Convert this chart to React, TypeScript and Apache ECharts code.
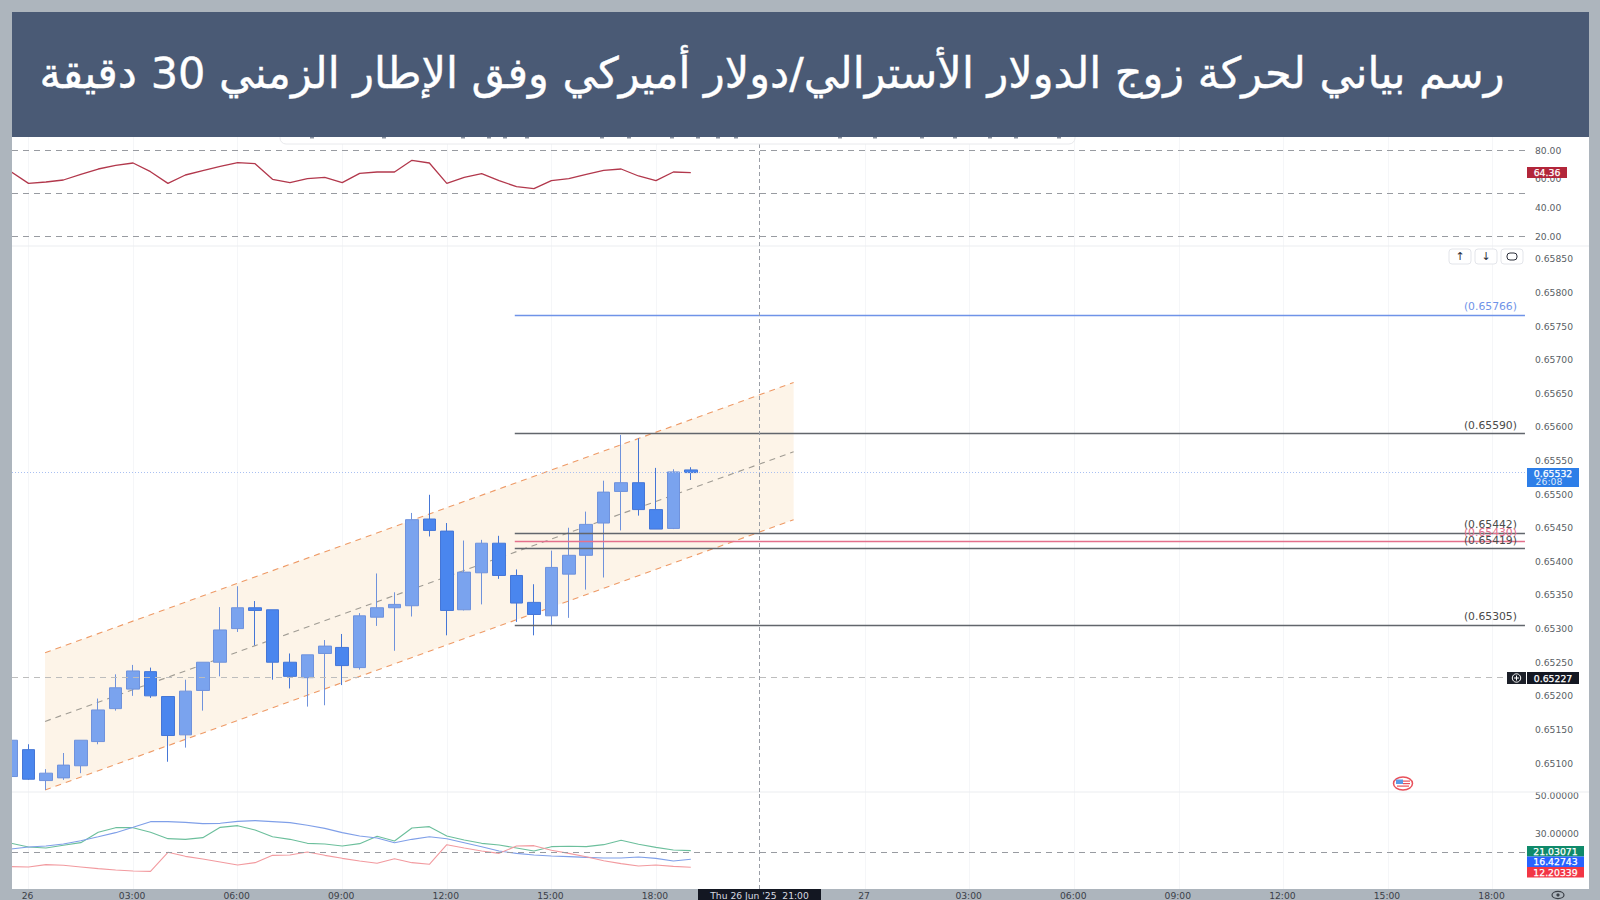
import React, { useEffect, useRef } from "react";
import * as echarts from "echarts";

const titleText = "رسم بياني لحركة زوج الدولار الأسترالي/دولار أميركي وفق الإطار الزمني 30 دقيقة";

const barIndex = Array.from({ length: 40 }, (_, k) => k - 1);
const opens = [65080, 65120, 65074, 65078, 65096, 65132, 65181, 65210, 65236, 65199, 65142, 65208, 65250, 65300, 65331, 65328, 65250, 65227, 65263, 65272, 65242, 65317, 65331, 65334, 65463, 65445, 65328, 65383, 65427, 65379, 65339, 65319, 65381, 65409, 65457, 65504, 65517, 65477, 65449, 65536];
const closes = [65134, 65076, 65085, 65097, 65134, 65179, 65212, 65237, 65200, 65141, 65207, 65250, 65298, 65331, 65327, 65250, 65229, 65261, 65274, 65245, 65319, 65331, 65336, 65462, 65446, 65327, 65384, 65427, 65379, 65338, 65321, 65391, 65409, 65455, 65503, 65517, 65477, 65448, 65533, 65532];
const lows = [65080, 65075, 65060, 65075, 65085, 65128, 65178, 65200, 65197, 65102, 65123, 65178, 65229, 65295, 65275, 65224, 65211, 65184, 65186, 65216, 65239, 65304, 65267, 65318, 65437, 65290, 65327, 65336, 65374, 65310, 65290, 65304, 65316, 65358, 65376, 65446, 65468, 65448, 65448, 65521];
const highs = [65134, 65128, 65091, 65115, 65134, 65196, 65232, 65246, 65242, 65199, 65224, 65250, 65332, 65363, 65341, 65328, 65263, 65261, 65283, 65292, 65323, 65382, 65354, 65472, 65499, 65457, 65431, 65432, 65438, 65388, 65366, 65416, 65450, 65474, 65520, 65588, 65583, 65539, 65537, 65540];

const rsiValues = [65.0, 56.93, 57.85, 59.24, 63.16, 66.85, 69.39, 71.0, 65.0, 56.93, 62.7, 65.7, 68.7, 71.23, 70.54, 59.7, 57.39, 60.16, 61.08, 57.39, 63.85, 64.77, 64.77, 72.85, 71.0, 56.93, 61.08, 63.62, 58.78, 54.62, 53.24, 58.78, 60.16, 63.16, 65.93, 66.85, 62.01, 58.78, 64.77, 64.36];
const adxGreen = [24.89, 22.94, 22.41, 23.83, 25.24, 30.72, 33.2, 33.2, 30.72, 27.36, 27.01, 27.89, 33.37, 34.26, 31.96, 28.42, 27.01, 24.89, 24.53, 23.47, 24.71, 28.6, 26.12, 33.02, 33.73, 28.78, 26.65, 24.89, 24.0, 22.41, 20.82, 23.12, 23.3, 23.12, 24.18, 26.48, 24.36, 22.76, 21.35, 21.03];
const adxBlue = [21.88, 22.94, 23.47, 24.53, 26.3, 28.42, 30.55, 33.37, 36.38, 36.38, 36.03, 35.32, 35.5, 36.56, 36.91, 36.38, 35.85, 34.44, 32.84, 30.55, 28.78, 27.72, 25.24, 27.01, 28.42, 27.36, 25.24, 23.12, 20.82, 19.58, 18.7, 18.17, 17.81, 17.46, 17.11, 17.11, 17.64, 16.93, 15.51, 16.43];
const adxRed = [12.51, 12.33, 13.57, 13.22, 12.33, 11.45, 10.74, 10.21, 10.03, 20.11, 17.99, 16.58, 14.98, 13.39, 14.63, 18.52, 18.7, 20.29, 18.52, 16.93, 15.51, 14.28, 16.75, 14.63, 13.75, 24.18, 22.41, 20.82, 19.58, 23.47, 23.65, 21.18, 19.58, 17.81, 15.69, 14.1, 12.86, 13.39, 12.68, 12.2];

const channelX = [0.95, 43.9];
const channelTop = [65264, 65666];
const channelMid = [65162, 65563];
const channelBottom = [65060, 65462];

const levelStart = 27.9;
const levelEnd = 85.86;
const levelPrices = [65766, 65590, 65442, 65430, 65419, 65305];
const levelLabels = ["(0.65766)", "(0.65590)", "(0.65442)", "(0.65430)", "(0.65419)", "(0.65305)"];
const levelColors = ["#6f93e8", "#62666c", "#62666c", "#e4708c", "#62666c", "#62666c"];
const levelTextColors = ["#6f93e8", "#4a4a4a", "#4a4a4a", "#e4708c", "#4a4a4a", "#4a4a4a"];

const lastPrice = 65532;
const dashedPrice = 65227;
const crossIndex = 41.93;

const timeTicks = [0, 6, 12, 18, 24, 30, 36, 48, 54, 60, 66, 72, 78, 84];
const timeLabels = ["26", "03:00", "06:00", "09:00", "12:00", "15:00", "18:00", "27", "03:00", "06:00", "09:00", "12:00", "15:00", "18:00"];
const priceTicks = [65100, 65150, 65200, 65250, 65300, 65350, 65400, 65450, 65500, 65550, 65600, 65650, 65700, 65750, 65800, 65850];
const rsiTicks = [20, 40, 60, 80];
const rsiDashed = [80, 50, 20];
const adxTicks = [30, 50];
const adxDashed = [20];
const toolbarMarks = [310, 382, 461, 487, 503, 525, 600, 627, 670, 696, 716, 734, 838, 873, 920, 953, 988, 1014, 1057];

const FONT = '"DejaVu Sans"';
const AXIS_COLOR = "#5a5f66";
const xMin = -0.947;
const xMax = 85.92;
const dash = [6, 5];

const crossStyle = { color: "#9a9ea6", type: [4, 3], width: 1 };

function makeX(gridIndex: number, showLabels: boolean) {
  return {
    type: "value",
    gridIndex,
    min: xMin,
    max: xMax,
    axisLine: { show: false },
    axisTick: { show: false, customValues: timeTicks },
    splitLine: { show: true, lineStyle: { color: "#f5f6f8", width: 1 } },
    axisLabel: {
      show: showLabels,
      customValues: timeTicks,
      margin: 2,
      padding: [0, 2, 0, 0],
      color: "#3b4048",
      fontFamily: FONT,
      fontSize: 9.2,
      formatter: (v: number) => timeLabels[timeTicks.indexOf(Math.round(v))] ?? "",
    },
  };
}

function makeY(gridIndex: number, min: number, max: number, ticks: number[], digits: number, scale = 1) {
  return {
    type: "value",
    gridIndex,
    position: "right",
    min,
    max,
    axisLine: { show: false },
    axisTick: { show: false, customValues: ticks },
    splitLine: { show: false },
    axisLabel: {
      customValues: ticks,
      margin: 9,
      color: AXIS_COLOR,
      fontFamily: FONT,
      fontSize: 9.2,
      align: "left",
      formatter: (v: number) => (v / scale).toFixed(digits),
    },
  };
}

function zip(xs: number[], ys: number[]) {
  return xs.map((x, k) => [x, ys[k]]);
}

function tag(x: number, y: number, w: number, h: number, fill: string, text: string, color = "#fff", size = 9.3) {
  return [
    { type: "rect", z: 50, shape: { x, y, width: w, height: h }, style: { fill } },
    {
      type: "text", z: 51, x: x + w / 2, y: y + h / 2,
      style: { text, fill: color, stroke: color, lineWidth: 0.25, font: `${size}px ${FONT}`, align: "center", verticalAlign: "middle" },
    },
  ];
}

function axisButton(x: number, label: string | null) {
  const items: any[] = [
    { type: "rect", z: 50, shape: { x, y: 249, width: 22, height: 15, r: 3 }, style: { fill: "#fff", stroke: "#e3e5ea", lineWidth: 1 } },
  ];
  if (label) {
    items.push({
      type: "text", z: 51, x: x + 11, y: 256.5,
      style: { text: label, fill: "#2a2e39", font: `11px ${FONT}`, align: "center", verticalAlign: "middle" },
    });
  } else {
    items.push({ type: "rect", z: 51, shape: { x: x + 6, y: 253, width: 10, height: 7, r: 3 }, style: { fill: "#fff", stroke: "#2a2e39", lineWidth: 1 } });
  }
  return items;
}

export default function App() {
  const ref = useRef<HTMLDivElement>(null);
  useEffect(() => {
    const chart = echarts.init(ref.current!, undefined, { renderer: "svg" });
    const option: any = {
      animation: false,
      backgroundColor: "#adb5bd",
      grid: [
        { left: 12, width: 1514, top: 137, height: 109 },
        { left: 12, width: 1514, top: 246, height: 546 },
        { left: 12, width: 1514, top: 792, height: 97 },
      ],
      xAxis: [makeX(0, false), makeX(1, false), makeX(2, true)],
      yAxis: [
        makeY(0, 13.56, 89, rsiTicks, 2),
        makeY(1, 65057, 65869, priceTicks, 5, 100000),
        makeY(2, 0.66, 52.12, adxTicks, 5),
      ],
      series: [
        {
          type: "line", xAxisIndex: 0, yAxisIndex: 0, z: 4, symbol: "none",
          data: zip(barIndex, rsiValues),
          lineStyle: { color: "#b2384c", width: 1.3 },
          markLine: {
            symbol: "none", silent: true, label: { show: false },
            lineStyle: { color: "#989ba1", type: dash, width: 1 },
            data: [...rsiDashed.map((v) => ({ yAxis: v })), { xAxis: crossIndex, lineStyle: crossStyle }],
          },
        },
        {
          type: "custom", xAxisIndex: 1, yAxisIndex: 1, z: 1, silent: true,
          data: [[channelX[0], channelBottom[0]]],
          renderItem: (_: any, api: any) => ({
            type: "polygon",
            shape: {
              points: [
                api.coord([channelX[0], channelTop[0]]),
                api.coord([channelX[1], channelTop[1]]),
                api.coord([channelX[1], channelBottom[1]]),
                api.coord([channelX[0], channelBottom[0]]),
              ],
            },
            style: { fill: "#fdf4e8" },
          }),
        },
        {
          type: "line", xAxisIndex: 1, yAxisIndex: 1, z: 2, symbol: "none", silent: true,
          data: zip(channelX, channelTop),
          lineStyle: { color: "#ee9a66", width: 1.1, type: dash },
        },
        {
          type: "line", xAxisIndex: 1, yAxisIndex: 1, z: 2, symbol: "none", silent: true,
          data: zip(channelX, channelMid),
          lineStyle: { color: "#a09c94", width: 1.1, type: dash },
        },
        {
          type: "line", xAxisIndex: 1, yAxisIndex: 1, z: 2, symbol: "none", silent: true,
          data: zip(channelX, channelBottom),
          lineStyle: { color: "#ee9a66", width: 1.1, type: dash },
        },
        {
          type: "candlestick", xAxisIndex: 1, yAxisIndex: 1, z: 3, barWidth: 13,
          data: barIndex.map((x, k) => [x, opens[k], closes[k], lows[k], highs[k]]),
          itemStyle: {
            color: "#7aa3ee", color0: "#4a86ee",
            borderColor: "#6f92dc", borderColor0: "#4576d6", borderWidth: 1,
          },
          markLine: {
            symbol: "none", silent: true,
            data: [
              ...levelPrices.map((p, k) => [
                {
                  coord: [levelStart, p],
                  lineStyle: { color: levelColors[k], type: "solid", width: 1.3 },
                  label: {
                    show: true, formatter: levelLabels[k], position: "insideEndTop",
                    color: levelTextColors[k], fontFamily: FONT, fontSize: 10.8,
                    distance: 0, padding: [0, 8, 3, 0],
                  },
                },
                { coord: [levelEnd, p] },
              ]),
              [
                { coord: [xMin, lastPrice], lineStyle: { color: "#a9c0f2", type: [1, 2], width: 1 }, label: { show: false } },
                { coord: [xMax, lastPrice] },
              ],
              [
                { coord: [xMin, dashedPrice], lineStyle: { color: "#bdbdbd", type: dash, width: 1 }, label: { show: false } },
                { coord: [85, dashedPrice] },
              ],
              [
                { coord: [crossIndex, 65057], lineStyle: crossStyle, label: { show: false } },
                { coord: [crossIndex, 65869] },
              ],
            ],
          },
        },
        {
          type: "line", xAxisIndex: 2, yAxisIndex: 2, z: 4, symbol: "none",
          data: zip(barIndex, adxGreen),
          lineStyle: { color: "#6cbf9c", width: 1.1 },
          markLine: {
            symbol: "none", silent: true, label: { show: false },
            lineStyle: { color: "#989ba1", type: dash, width: 1 },
            data: [...adxDashed.map((v) => ({ yAxis: v })), { xAxis: crossIndex, lineStyle: crossStyle }],
          },
        },
        {
          type: "line", xAxisIndex: 2, yAxisIndex: 2, z: 4, symbol: "none",
          data: zip(barIndex, adxBlue),
          lineStyle: { color: "#7f9fe8", width: 1.1 },
        },
        {
          type: "line", xAxisIndex: 2, yAxisIndex: 2, z: 4, symbol: "none",
          data: zip(barIndex, adxRed),
          lineStyle: { color: "#f29a9f", width: 1.1 },
        },
      ],
      graphic: {
        elements: [
          { type: "rect", z: -1, shape: { x: 12, y: 137, width: 1577, height: 752 }, style: { fill: "#ffffff" } },
          { type: "rect", z: 55, shape: { x: 0, y: 137, width: 12, height: 763 }, style: { fill: "#adb5bd" } },
          { type: "line", z: 1, shape: { x1: 12, y1: 246, x2: 1589, y2: 246 }, style: { stroke: "#ebedf0", lineWidth: 1 } },
          { type: "line", z: 1, shape: { x1: 12, y1: 792, x2: 1589, y2: 792 }, style: { stroke: "#ebedf0", lineWidth: 1 } },
          { type: "rect", z: 40, shape: { x: 280, y: 128, width: 795, height: 16, r: 6 }, style: { fill: "#fff", stroke: "#e8e9ec", lineWidth: 1 } },
          ...toolbarMarks.map((x) => ({ type: "rect", z: 41, shape: { x, y: 137, width: 4, height: 1.5 }, style: { fill: "#8a92a0" } })),
          { type: "rect", z: 60, shape: { x: 12, y: 12, width: 1577, height: 125 }, style: { fill: "#4a5a75" } },
          {
            type: "text", z: 61, x: 772, y: 73,
            style: { text: titleText, fill: "#ffffff", stroke: "#ffffff", lineWidth: 0.4, font: `43px ${FONT}`, align: "center", verticalAlign: "middle" },
          },
          ...tag(1527, 167, 40, 11, "#b2263a", "64.36"),
          { type: "rect", z: 50, shape: { x: 1527, y: 468, width: 52, height: 19 }, style: { fill: "#2d7ee8" } },
          { type: "text", z: 51, x: 1553, y: 473.3, style: { text: "0.65532", fill: "#fff", stroke: "#fff", lineWidth: 0.25, font: `9.3px ${FONT}`, align: "center", verticalAlign: "middle" } },
          { type: "text", z: 51, x: 1549, y: 481.7, style: { text: "26:08", fill: "#dce8fb", font: `9.3px ${FONT}`, align: "center", verticalAlign: "middle" } },
          ...tag(1527, 672, 52, 12, "#131722", "0.65227"),
          { type: "rect", z: 50, shape: { x: 1507, y: 672, width: 19, height: 12 }, style: { fill: "#1c2029" } },
          { type: "circle", z: 51, shape: { cx: 1516.5, cy: 678, r: 4.2 }, style: { fill: "none", stroke: "#fff", lineWidth: 1 } },
          { type: "line", z: 51, shape: { x1: 1514, y1: 678, x2: 1519, y2: 678 }, style: { stroke: "#fff", lineWidth: 1 } },
          { type: "line", z: 51, shape: { x1: 1516.5, y1: 675.5, x2: 1516.5, y2: 680.5 }, style: { stroke: "#fff", lineWidth: 1 } },
          ...tag(1527, 846, 57, 10.5, "#0f8a6a", "21.03071"),
          ...tag(1527, 856.5, 57, 10.5, "#2962ff", "16.42743"),
          ...tag(1527, 867, 57, 10.5, "#f23645", "12.20339"),
          ...axisButton(1449, "↑"),
          ...axisButton(1475, "↓"),
          ...axisButton(1501, null),
          { type: "rect", z: 50, shape: { x: 698, y: 889, width: 123, height: 11 }, style: { fill: "#131722" } },
          { type: "text", z: 51, x: 759.5, y: 895, style: { text: "Thu 26 Jun '25  21:00", fill: "#d8dae0", font: `9.2px ${FONT}`, align: "center", verticalAlign: "middle" } },
          { type: "ellipse", z: 50, shape: { cx: 1558, cy: 895, rx: 6, ry: 3.6 }, style: { fill: "none", stroke: "#3b4048", lineWidth: 1.2 } },
          { type: "circle", z: 50, shape: { cx: 1558, cy: 895, r: 1.6 }, style: { fill: "#3b4048" } },
          { type: "ellipse", z: 50, shape: { cx: 1403, cy: 783.5, rx: 9.5, ry: 6.5 }, style: { fill: "#fff", stroke: "#e8505a", lineWidth: 1.5 } },
          { type: "rect", z: 51, shape: { x: 1396, y: 779.5, width: 7, height: 4.5 }, style: { fill: "#5a9be8" } },
          { type: "rect", z: 51, shape: { x: 1403, y: 780.5, width: 7, height: 1.2 }, style: { fill: "#e8505a" } },
          { type: "rect", z: 51, shape: { x: 1403, y: 783, width: 7, height: 1.2 }, style: { fill: "#e8505a" } },
          { type: "rect", z: 51, shape: { x: 1397, y: 785.5, width: 12, height: 1.2 }, style: { fill: "#e8505a" } },
        ],
      },
    };
    chart.setOption(option);
    return () => chart.dispose();
  }, []);
  return <div ref={ref} style={{ position: "fixed", left: 0, top: 0, width: 1600, height: 900 }} />;
}
